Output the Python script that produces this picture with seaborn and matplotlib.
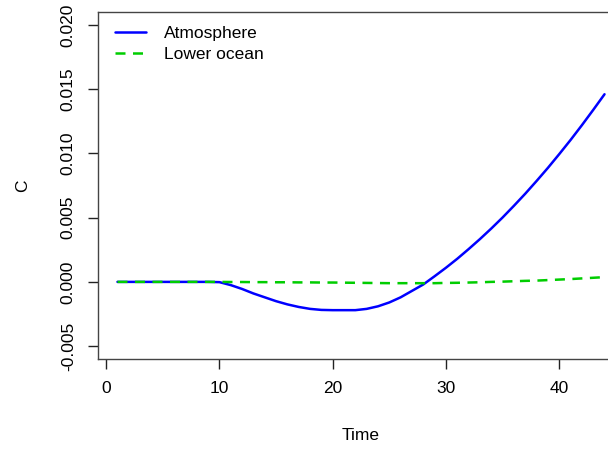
import numpy as np
import pandas as pd
import matplotlib
matplotlib.use("Agg")
import matplotlib.pyplot as plt
import seaborn as sns

# values (time steps 1..44)
time = list(range(1, 45))
atmosphere = [
    0, 0, 0, 0, 0, 0, 0, 0, 0, -0.00002,
    -0.00025, -0.00055, -0.0009, -0.0012, -0.0015, -0.00175, -0.00195, -0.0021, -0.00218, -0.0022,
    -0.0022, -0.0022, -0.0021, -0.0019, -0.0016, -0.0012, -0.0007, -0.0002, 0.00044, 0.0011,
    0.0018, 0.00255, 0.00333, 0.00415, 0.00501, 0.00592, 0.00686, 0.00785, 0.00887, 0.00994,
    0.01104, 0.01219, 0.01338, 0.0146,
]
lower_ocean = [
    0, 0, 0, 0, 0, 0, 0, 0, 0, 0,
    -0.00001, -0.00001, -0.00002, -0.00002, -0.00003, -0.00003, -0.00004, -0.00004, -0.00005, -0.00005,
    -0.00006, -0.00007, -0.00008, -0.00009, -0.0001, -0.0001, -0.0001, -0.0001, -0.0001, -0.00008,
    -0.00007, -0.00005, -0.00003, 0.0, 0.00002, 0.00005, 0.00008, 0.0001, 0.00014, 0.00018,
    0.00022, 0.00027, 0.00032, 0.00037,
]
xticks = [0, 10, 20, 30, 40]
yticks = [-0.005, 0.0, 0.005, 0.010, 0.015, 0.020]

df = pd.DataFrame({"Time": time, "Atmosphere": atmosphere, "Lower ocean": lower_ocean})

sns.set_theme(style="white")
plt.rcParams["font.family"] = ["Liberation Sans", "DejaVu Sans"]
plt.rcParams["axes.unicode_minus"] = False
plt.rcParams["text.color"] = "black"
plt.rcParams["axes.labelcolor"] = "black"
plt.rcParams["xtick.color"] = "black"
plt.rcParams["ytick.color"] = "black"

W, H = 608, 449
fig = plt.figure(figsize=(W / 100, H / 100), dpi=100)
left, right, top, bottom = 98, 624, 12, 359
ax = fig.add_axes([left / W, (H - bottom) / H, (right - left) / W, (bottom - top) / H])

sns.lineplot(data=df, x="Time", y="Atmosphere", ax=ax, color="#0000FF", lw=1.8, label="Atmosphere")
sns.lineplot(data=df, x="Time", y="Lower ocean", ax=ax, color="#00CD00", lw=1.8,
             label="Lower ocean")
ax.lines[1].set_dashes((4, 3))

ax.set_xlim(-0.72, 45.72)
ax.set_ylim(-0.006, 0.021)
ax.set_xticks(xticks)
ax.set_xticklabels([str(t) for t in xticks])
ax.set_yticks(yticks)
ax.set_yticklabels([f"{v:.3f}" for v in yticks], rotation=90, va="center")
ax.tick_params(axis="both", which="major", direction="out", length=7, width=1,
               color="#222222", labelcolor="black", labelsize=12.5, pad=9,
               left=True, bottom=True)
for s in ax.spines.values():
    s.set_color("#444444")
    s.set_linewidth(1)

ax.set_xlabel("Time", fontsize=12.5, va="center")
ax.set_ylabel("C", fontsize=12.5, va="center")
aw, ah = right - left, bottom - top
ax.xaxis.set_label_coords(0.5, -(435 - bottom) / ah)
ax.yaxis.set_label_coords(-(left - 23) / aw, 0.5)

leg = ax.legend(loc="upper left", bbox_to_anchor=((115 - left) / aw, (bottom - 26) / ah),
                frameon=False, fontsize=12.5, borderaxespad=0, borderpad=0,
                handlelength=1.8, handletextpad=1.0, labelspacing=0.32)
for t in leg.get_texts():
    t.set_color("black")

fig.savefig("out.png", dpi=100)
